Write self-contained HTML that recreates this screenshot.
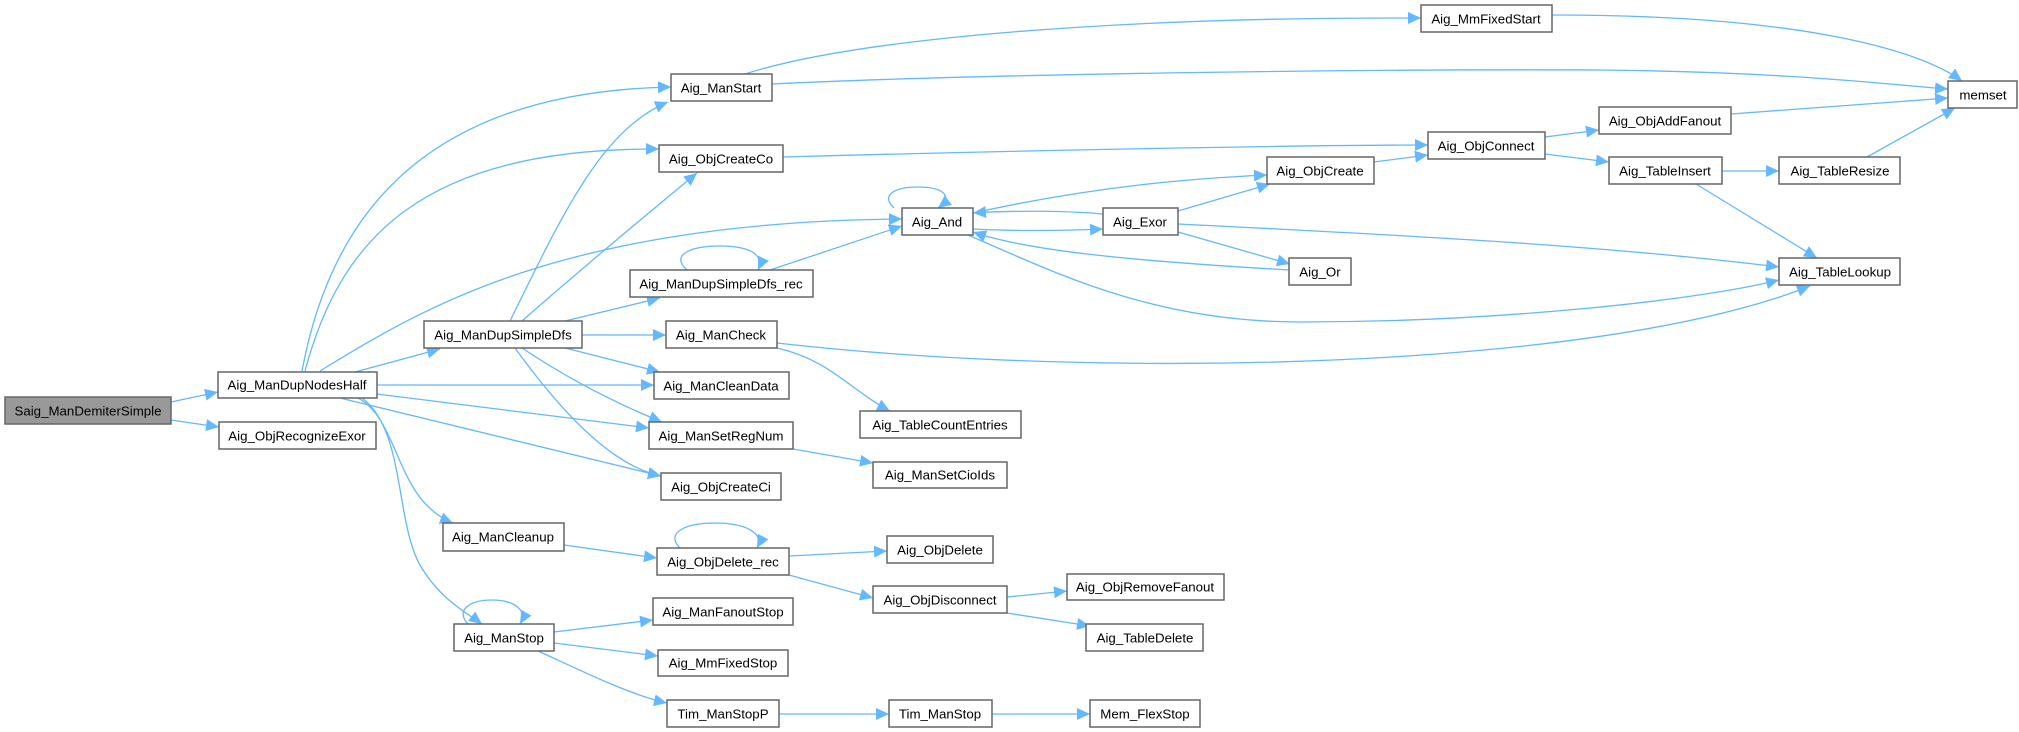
<!DOCTYPE html>
<html><head><meta charset="utf-8"><style>
html,body{margin:0;padding:0;background:#fff;}
svg{display:block;}
text{font-family:"Liberation Sans",Arial,sans-serif;font-size:13.3px;fill:#000;text-anchor:middle;dominant-baseline:central;}
.n{fill:#fff;stroke:#666;stroke-width:1.5;}
.e{fill:none;stroke:#63b8ff;stroke-width:1.3;marker-end:url(#a);}
</style></head><body>
<svg width="2019" height="732" viewBox="0 0 2019 732" xmlns="http://www.w3.org/2000/svg">
<defs><marker id="a" markerUnits="userSpaceOnUse" markerWidth="14" markerHeight="12" refX="13" refY="6" orient="auto"><path d="M0,0 L13,6 L0,12 z" fill="#63b8ff"/></marker></defs>

<!-- edges -->
<path class="e" d="M171,402 L218,392"/>
<path class="e" d="M171,420 L219,427"/>
<path class="e" d="M302,371 C330,220 420,92 671,87"/>
<path class="e" d="M305,371 C340,240 420,148 659,149"/>
<path class="e" d="M320,371 C420,310 560,222 902,219"/>
<path class="e" d="M355,372 L440,349"/>
<path class="e" d="M377,385 L654,385"/>
<path class="e" d="M377,394 L649,428"/>
<path class="e" d="M340,398 L661,476"/>
<path class="e" d="M358,398 C400,420 395,500 453,523"/>
<path class="e" d="M362,398 C405,430 395,520 420,565 C440,600 470,615 482,624"/>

<path class="e" d="M510,321 C560,220 600,130 668,102"/>
<path class="e" d="M522,321 C580,270 640,220 697,173"/>
<path class="e" d="M565,321 L660,298"/>
<path class="e" d="M582,335 L666,335"/>
<path class="e" d="M565,348 L660,372"/>
<path class="e" d="M522,348 C570,380 620,405 662,422"/>
<path class="e" d="M515,348 C560,410 610,465 661,476"/>

<path class="e" d="M770,270 L902,226"/>
<path class="e" d="M687,270 C670,255 690,246 720,246 C750,246 765,255 758,270"/>
<path class="e" d="M894,208 C880,195 895,187 918,187 C941,187 955,195 938,208"/>
<path class="e" d="M777,348 C830,360 850,390 890,411"/>
<path class="e" d="M777,343 C1100,380 1600,370 1810,286"/>
<path class="e" d="M793,449 L873,463"/>

<path class="e" d="M745,74 C850,40 1100,17 1421,18"/>
<path class="e" d="M772,84 C1000,73 1400,69 1600,70 C1800,72 1900,86 1948,89"/>
<path class="e" d="M1552,15 C1800,15 1920,50 1962,81"/>
<path class="e" d="M783,157 C1000,151 1300,145 1428,145"/>
<path class="e" d="M1545,137 L1599,130"/>
<path class="e" d="M1545,154 L1609,162"/>
<path class="e" d="M1731,114 L1948,98"/>
<path class="e" d="M1722,171 L1779,171"/>
<path class="e" d="M1696,184 L1817,258"/>
<path class="e" d="M1867,157 L1955,108"/>
<path class="e" d="M973,213 C1100,185 1200,178 1267,175"/>
<path class="e" d="M1103,214 C1060,210 1000,211 973,213"/>
<path class="e" d="M973,229 C1010,231 1060,231 1103,229"/>
<path class="e" d="M1289,270 C1150,262 1030,252 973,232"/>
<path class="e" d="M1178,211 L1270,184"/>
<path class="e" d="M1178,232 L1290,264"/>
<path class="e" d="M1178,224 C1400,235 1600,245 1779,267"/>
<path class="e" d="M968,235 C1050,270 1150,322 1300,322 C1500,322 1700,300 1779,280"/>
<path class="e" d="M1374,162 L1428,155"/>

<path class="e" d="M564,545 L657,558"/>
<path class="e" d="M680,548 C665,533 685,523 715,523 C745,523 765,533 757,548"/>
<path class="e" d="M789,556 L887,551"/>
<path class="e" d="M789,575 L873,598"/>
<path class="e" d="M1007,597 L1067,591"/>
<path class="e" d="M1007,613 L1090,626"/>
<path class="e" d="M468,624 C455,610 470,600 492,600 C514,600 528,610 520,624"/>
<path class="e" d="M554,632 L653,620"/>
<path class="e" d="M554,643 L658,656"/>
<path class="e" d="M538,651 C580,670 630,695 667,703"/>
<path class="e" d="M779,714 L889,714"/>
<path class="e" d="M992,714 L1090,714"/>

<!-- nodes -->
<rect x="5" y="397" width="166" height="27" style="fill:#999;stroke:#666;stroke-width:1.5"/><text x="88" y="411">Saig_ManDemiterSimple</text>
<rect class="n" x="218" y="372" width="159" height="26"/><text x="297" y="385">Aig_ManDupNodesHalf</text>
<rect class="n" x="219" y="422" width="157" height="27"/><text x="297" y="436">Aig_ObjRecognizeExor</text>
<rect class="n" x="671" y="74" width="101" height="27"/><text x="721" y="88">Aig_ManStart</text>
<rect class="n" x="659" y="145" width="124" height="27"/><text x="721" y="159">Aig_ObjCreateCo</text>
<rect class="n" x="902" y="208" width="71" height="27"/><text x="937" y="222">Aig_And</text>
<rect class="n" x="424" y="321" width="158" height="27"/><text x="503" y="335">Aig_ManDupSimpleDfs</text>
<rect class="n" x="630" y="270" width="183" height="27"/><text x="721" y="284">Aig_ManDupSimpleDfs_rec</text>
<rect class="n" x="666" y="321" width="111" height="27"/><text x="721" y="335">Aig_ManCheck</text>
<rect class="n" x="654" y="372" width="135" height="27"/><text x="721" y="386">Aig_ManCleanData</text>
<rect class="n" x="649" y="422" width="144" height="27"/><text x="721" y="436">Aig_ManSetRegNum</text>
<rect class="n" x="661" y="473" width="120" height="27"/><text x="721" y="487">Aig_ObjCreateCi</text>
<rect class="n" x="443" y="523" width="121" height="28"/><text x="503" y="537">Aig_ManCleanup</text>
<rect class="n" x="657" y="548" width="132" height="27"/><text x="723" y="562">Aig_ObjDelete_rec</text>
<rect class="n" x="887" y="536" width="106" height="27"/><text x="940" y="550">Aig_ObjDelete</text>
<rect class="n" x="873" y="586" width="134" height="27"/><text x="940" y="600">Aig_ObjDisconnect</text>
<rect class="n" x="1067" y="574" width="157" height="26"/><text x="1145" y="587">Aig_ObjRemoveFanout</text>
<rect class="n" x="1086" y="624" width="117" height="27"/><text x="1145" y="638">Aig_TableDelete</text>
<rect class="n" x="454" y="624" width="100" height="27"/><text x="504" y="638">Aig_ManStop</text>
<rect class="n" x="653" y="598" width="140" height="27"/><text x="723" y="612">Aig_ManFanoutStop</text>
<rect class="n" x="658" y="650" width="130" height="26"/><text x="723" y="663">Aig_MmFixedStop</text>
<rect class="n" x="667" y="700" width="112" height="27"/><text x="723" y="714">Tim_ManStopP</text>
<rect class="n" x="889" y="700" width="103" height="27"/><text x="940" y="714">Tim_ManStop</text>
<rect class="n" x="1090" y="700" width="110" height="27"/><text x="1145" y="714">Mem_FlexStop</text>
<rect class="n" x="1421" y="5" width="131" height="27"/><text x="1486" y="19">Aig_MmFixedStart</text>
<rect class="n" x="1428" y="132" width="117" height="27"/><text x="1486" y="146">Aig_ObjConnect</text>
<rect class="n" x="1267" y="157" width="107" height="27"/><text x="1320" y="171">Aig_ObjCreate</text>
<rect class="n" x="1103" y="208" width="75" height="27"/><text x="1140" y="222">Aig_Exor</text>
<rect class="n" x="1289" y="258" width="62" height="27"/><text x="1320" y="272">Aig_Or</text>
<rect class="n" x="1599" y="107" width="132" height="27"/><text x="1665" y="121">Aig_ObjAddFanout</text>
<rect class="n" x="1609" y="157" width="113" height="27"/><text x="1665" y="171">Aig_TableInsert</text>
<rect class="n" x="1779" y="157" width="121" height="27"/><text x="1840" y="171">Aig_TableResize</text>
<rect class="n" x="1948" y="81" width="69" height="27"/><text x="1983" y="95">memset</text>
<rect class="n" x="1779" y="258" width="121" height="27"/><text x="1840" y="272">Aig_TableLookup</text>
<rect class="n" x="860" y="411" width="161" height="27"/><text x="940" y="425">Aig_TableCountEntries</text>
<rect class="n" x="873" y="462" width="134" height="26"/><text x="940" y="475">Aig_ManSetCioIds</text>
</svg>
</body></html>
